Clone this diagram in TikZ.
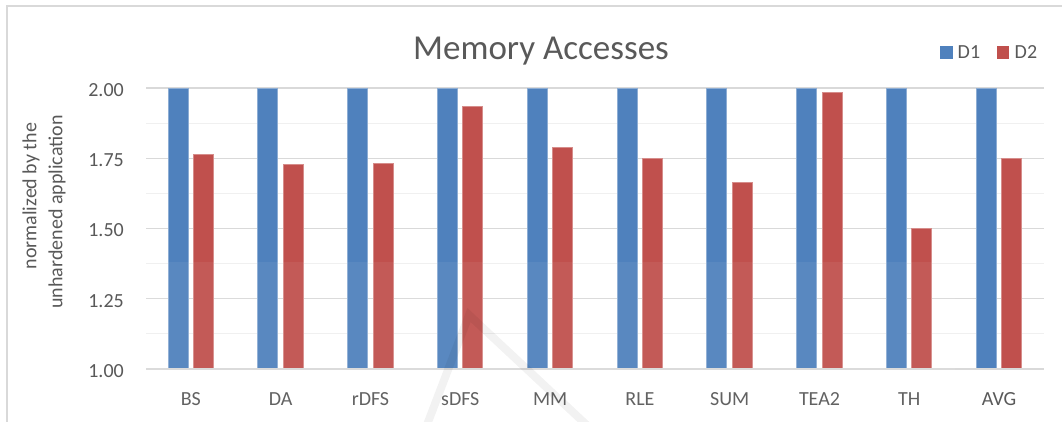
\documentclass[tikz,border=0pt]{standalone}
\usepackage{fontspec}
\setmainfont{Carlito}
\definecolor{barblue}{HTML}{4F81BD}
\definecolor{barred}{HTML}{C0504D}
\definecolor{txtgray}{HTML}{595959}
\definecolor{gridmajor}{HTML}{D9D9D9}
\definecolor{gridminor}{HTML}{F0F0F0}
\definecolor{framegray}{HTML}{D9D9D9}
\tikzset{
  lab/.style={text=txtgray, inner sep=0pt, font=\fontsize{20}{24}\selectfont},
  ticklab/.style={lab, anchor=east},
  catlab/.style={lab, anchor=base},
  titlelab/.style={text=txtgray, inner sep=0pt, anchor=base, font=\fontsize{35}{42}\selectfont},
  d1bar/.style={fill=barblue, draw=barblue!65!white, line width=0.7pt},
  d2bar/.style={fill=barred, draw=barred!65!white, line width=0.7pt},
  majorgrid/.style={draw=gridmajor, line width=1.2pt},
  minorgrid/.style={draw=gridminor, line width=1.2pt},
}
\begin{document}
\begin{tikzpicture}[x=1pt, y=-1pt]
  \useasboundingbox (0,0) rectangle (1062,422);
  \clip (0,0) rectangle (1062,422);
  \fill[white] (0,0) rectangle (1062,422);

  % chart frame (left and top edges)
  \draw[framegray, line width=1.2pt] (7,440) -- (7,6) -- (1080,6);

  % horizontal grid lines, every 0.125
  \foreach \k in {1,3,5,7} {
    \draw[minorgrid] (146,{88+\k*35.125}) -- (1044,{88+\k*35.125});
  }
  \foreach \k in {0,2,4,6} {
    \draw[majorgrid] (146,{88+\k*35.125}) -- (1044,{88+\k*35.125});
  }

  % y tick labels
  \foreach \lab [count=\k from 0] in {2.00,1.75,1.50,1.25,1.00} {
    \node[ticklab] (tick\k) at (124,{90+\k*70.25}) {\lab};
  }

  % bars and category labels
  \foreach \name/\val [count=\i from 0] in
      {BS/1.763, DA/1.730, rDFS/1.733, sDFS/1.933, MM/1.790,
       RLE/1.750, SUM/1.666, TEA2/1.985, TH/1.500, AVG/1.750} {
    \pgfmathsetmacro\c{146+89.8*(\i+0.5)}
    \pgfmathsetmacro\yr{369-(\val-1)*281}
    \fill[d1bar] (\c-23,88) rectangle (\c-3,369);
    \fill[d2bar] (\c+2.5,\yr) rectangle (\c+22.5,369);
    \draw[d1bar, fill=none] (\c-23,369) -- (\c-23,88) -- (\c-3,88) -- (\c-3,369);
    \draw[d2bar, fill=none] (\c+2.5,369) -- (\c+2.5,\yr) -- (\c+22.5,\yr) -- (\c+22.5,369);
    \node[catlab] (cat\i) at (\c,405) {\name};
  }

  % horizontal axis
  \draw[draw=gridmajor, line width=1.8pt] (146,369) -- (1044,369);

  % faint background mark over the lower part
  \fill[white, opacity=0.06] (140,262) rectangle (955,422);
  \draw[black, opacity=0.05, line width=8pt, line join=miter]
    (425,430) -- (469,315) -- (592,430);

  % title
  \node[titlelab] (title) at (541,59.5) {Memory Accesses};

  % y axis title
  \node[lab, rotate=90, anchor=center] (ylab1) at (31,196) {normalized by the};
  \node[lab, rotate=90, anchor=center] (ylab2) at (57,212) {unhardened application};

  % legend
  \fill[barblue] (940,46.5) rectangle (952.7,59);
  \node[lab, anchor=base west] (legd1) at (957.5,59) {D1};
  \fill[barred] (996.7,46.5) rectangle (1009.4,59);
  \node[lab, anchor=base west] (legd2) at (1014.5,59) {D2};
\end{tikzpicture}
\end{document}
